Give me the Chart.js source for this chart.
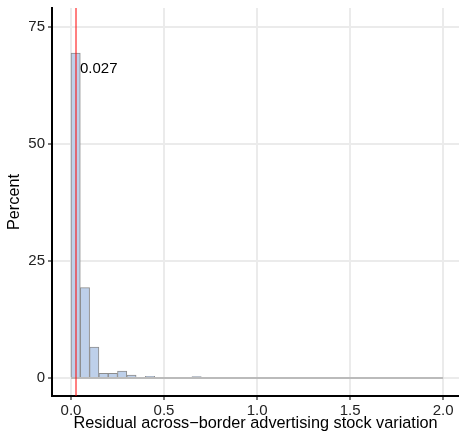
<!DOCTYPE html>
<html>
<head>
<meta charset="utf-8">
<script src="https://cdn.jsdelivr.net/npm/chart.js@4/dist/chart.umd.min.js"></script>
<style>
  html, body { margin: 0; padding: 0; background: #fff; }
  #wrap { width: 459px; height: 433px; }
</style>
</head>
<body>
<div id="wrap"><canvas id="histChart" width="459" height="433"></canvas></div>
<script>
// histogram bins (width 0.05 from 0 to 2.0)
const binStarts = [0.00, 0.05, 0.10, 0.15, 0.20, 0.25, 0.30, 0.35, 0.40, 0.45,
                   0.50, 0.55, 0.60, 0.65, 0.70, 0.75, 0.80, 0.85, 0.90, 0.95,
                   1.00, 1.05, 1.10, 1.15, 1.20, 1.25, 1.30, 1.35, 1.40, 1.45,
                   1.50, 1.55, 1.60, 1.65, 1.70, 1.75, 1.80, 1.85, 1.90, 1.95];
const binWidth = 0.05;
const percentValues = [69.4, 19.3, 6.6, 1.0, 1.0, 1.5, 0.6, 0.0, 0.35, 0.0,
                       0.0, 0.0, 0.0, 0.3, 0.0, 0.0, 0.0, 0.0, 0.0, 0.0,
                       0.0, 0.0, 0.0, 0.0, 0.0, 0.0, 0.0, 0.0, 0.0, 0.0,
                       0.0, 0.0, 0.0, 0.0, 0.0, 0.0, 0.0, 0.0, 0.0, 0.0];
const xTicks = [0.0, 0.5, 1.0, 1.5, 2.0];
const yTicks = [0, 25, 50, 75];
const meanValue = 0.027;
const meanLabel = '0.027';
const meanLabelY = 66;

const FONT = '"Liberation Sans", Arial, sans-serif';

// red reference line + its label
const meanLinePlugin = {
    id: 'meanLine',
    afterDatasetsDraw(chart) {
        const { ctx, chartArea, scales } = chart;
        const x = scales.x.getPixelForValue(meanValue);
        ctx.save();
        ctx.strokeStyle = '#FF0000';
        ctx.lineWidth = 1;
        ctx.beginPath();
        ctx.moveTo(x, chartArea.top);
        ctx.lineTo(x, chartArea.bottom);
        ctx.stroke();
        ctx.fillStyle = '#000';
        ctx.font = '15px ' + FONT;
        ctx.textBaseline = 'middle';
        ctx.fillText(meanLabel, x + 4, scales.y.getPixelForValue(meanLabelY));
        ctx.restore();
    }
};

const barData = binStarts.map((s, i) => ({ x: s + binWidth / 2, y: percentValues[i] }));
const baseLine = [
    { x: binStarts[0], y: 0 },
    { x: binStarts[binStarts.length - 1] + binWidth, y: 0 }
];

new Chart(document.getElementById('histChart'), {
    type: 'bar',
    data: {
        datasets: [{
            type: 'line',
            data: baseLine,
            borderColor: '#8C8C8C',
            borderWidth: 1.2,
            pointRadius: 0,
            order: 0
        }, {
            data: barData,
            backgroundColor: '#BED0EA',
            borderColor: '#8C8C8C',
            borderWidth: 1,
            barPercentage: 1,
            categoryPercentage: 1,
            order: 1
        }]
    },
    options: {
        responsive: false,
        animation: false,
        layout: { padding: { top: 8, right: 0, left: 0, bottom: 0 } },
        plugins: {
            legend: { display: false },
            tooltip: { enabled: false }
        },
        scales: {
            x: {
                type: 'linear',
                offset: false,
                min: -0.102,
                max: 2.085,
                afterBuildTicks: s => { s.ticks = xTicks.map(v => ({ value: v })); },
                afterFit: s => {
                    s.height = 37;
                    s.paddingLeft = 0;
                    s.paddingRight = 0;
                },
                ticks: {
                    color: '#222',
                    font: { family: FONT, size: 15 },
                    padding: 2,
                    maxRotation: 0,
                    callback: v => v.toFixed(1)
                },
                grid: {
                    offset: false,
                    color: '#EBEBEB',
                    lineWidth: 2,
                    tickColor: '#222',
                    tickLength: 4,
                    tickWidth: 1.2
                },
                border: { display: true, color: '#000', width: 2 },
                title: {
                    display: true,
                    text: 'Residual across\u2212border advertising stock variation',
                    color: '#000',
                    font: { family: FONT, size: 16.3 },
                    padding: { top: 2, bottom: 0 }
                }
            },
            y: {
                min: -3.85,
                max: 79.05,
                afterBuildTicks: s => { s.ticks = yTicks.map(v => ({ value: v })); },
                afterFit: s => {
                    s.width = 52;
                    s.paddingTop = 0;
                    s.paddingBottom = 0;
                },
                ticks: {
                    color: '#222',
                    font: { family: FONT, size: 15 },
                    padding: 3
                },
                grid: {
                    color: '#EBEBEB',
                    lineWidth: 2,
                    tickColor: '#222',
                    tickLength: 4,
                    tickWidth: 1.2
                },
                border: { display: true, color: '#000', width: 2 },
                title: {
                    display: true,
                    text: 'Percent',
                    color: '#000',
                    font: { family: FONT, size: 16.3 },
                    padding: { top: 5, bottom: 0 }
                }
            }
        }
    },
    plugins: [meanLinePlugin]
});
</script>
</body>
</html>
